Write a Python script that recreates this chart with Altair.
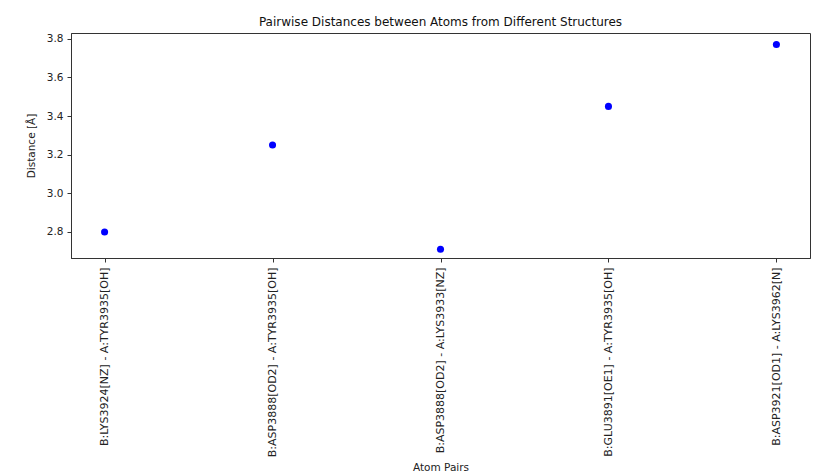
import altair as alt
import pandas as pd

pairs = [
    "B:LYS3924[NZ] - A:TYR3935[OH]",
    "B:ASP3888[OD2] - A:TYR3935[OH]",
    "B:ASP3888[OD2] - A:LYS3933[NZ]",
    "B:GLU3891[OE1] - A:TYR3935[OH]",
    "B:ASP3921[OD1] - A:LYS3962[N]",
]
distances = [2.80, 3.25, 2.71, 3.45, 3.77]
y_ticks = [2.8, 3.0, 3.2, 3.4, 3.6, 3.8]

df = pd.DataFrame({"pair": pairs, "distance": distances})

font = "DejaVu Sans"

chart = alt.Chart(df).mark_circle(color="#0000ff", opacity=1, size=50).encode(
    x=alt.X("pair:N", sort=pairs,
            scale=alt.Scale(type="point", padding=0.2),
            axis=alt.Axis(title="Atom Pairs", labelAngle=270, labelAlign="right",
                          labelBaseline="middle", labelFont=font, labelFontSize=11,
                          labelColor="#222", labelLimit=400, titleFont=font, titleFontSize=10.5,
                          titleFontWeight="normal", titleColor="#222",
                          tickColor="#333", tickSize=4, labelPadding=5,
                          domain=True, domainColor="#333", grid=False, titlePadding=6)),
    y=alt.Y("distance:Q",
            scale=alt.Scale(domain=[2.665, 3.83], nice=False, zero=False),
            axis=alt.Axis(title="Distance [Å]", values=y_ticks, format=".1f",
                          labelFont=font, labelFontSize=10.5, labelColor="#222",
                          titleFont=font, titleFontSize=10.5, titleFontWeight="normal",
                          titleColor="#222", tickColor="#333", tickSize=4,
                          labelPadding=4, domain=True, domainColor="#333",
                          grid=False, titlePadding=10)),
).properties(
    width=739,
    height=225,
    background="white",
    padding={"left": 18, "top": 8, "right": 5, "bottom": 0},
    title=alt.TitleParams("Pairwise Distances between Atoms from Different Structures",
                          font=font, fontSize=12, fontWeight="normal", color="#111",
                          offset=4),
).configure_view(stroke="#333333", strokeWidth=1)

chart.save("out.html", embed_options={"renderer": "svg", "actions": False})
